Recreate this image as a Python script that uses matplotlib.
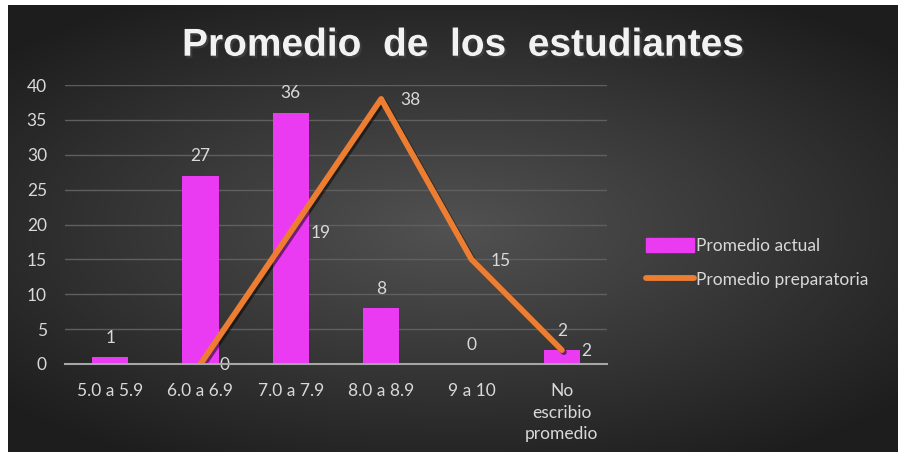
import numpy as np
import matplotlib
matplotlib.use("Agg")
import matplotlib.pyplot as plt
import matplotlib.patheffects as pe
from matplotlib.patches import Patch
from matplotlib.lines import Line2D

categorias = ["5.0 a 5.9", "6.0 a 6.9", "7.0 a 7.9", "8.0 a 8.9", "9 a 10", "No\nescribio\npromedio"]
promedio_actual = [1, 27, 36, 8, 0, 2]
promedio_prepa = [np.nan, 0, 19, 38, 15, 2]

magenta = "#EA3BF2"
naranja = "#ED7D31"
texto = "#D9D9D9"

plt.rcParams['font.family'] = ['Lato', 'DejaVu Sans']

fig = plt.figure(figsize=(9.04, 4.57), dpi=100)
fig.patch.set_facecolor("white")

# fondo con degradado radial
bg = fig.add_axes([8/904, 5/457, 890/904, 447/457])
xx, yy = np.meshgrid(np.linspace(-1, 1, 400), np.linspace(-1, 1, 200))
r = np.sqrt((xx*0.9)**2 + (yy*1.0)**2)
val = 0.32 - 0.17*np.clip(r, 0, 1.2)
bg.imshow(np.dstack([val, val, val]), aspect="auto", extent=[0, 1, 0, 1])
bg.set_axis_off()

ax = fig.add_axes([65/904, 93/457, 542/904, 279/457])
ax.patch.set_alpha(0)
x = np.arange(len(categorias))

ax.bar(x, promedio_actual, width=0.4, color=magenta, zorder=3)
ax.plot(x, promedio_prepa, color=naranja, lw=4.2, zorder=4, solid_capstyle="round",
        solid_joinstyle="round",
        path_effects=[pe.SimpleLineShadow(offset=(1.5, -1.5), alpha=0.5), pe.Normal()])

for xi, v in zip(x, promedio_actual):
    ax.annotate(str(v), (xi, v), xytext=(0, 14), textcoords="offset points",
                ha="center", va="center", color=texto, fontsize=12.5)
for xi, v in zip(x, promedio_prepa):
    if np.isnan(v):
        continue
    ax.annotate(str(int(v)), (xi, v), xytext=(14, -1), textcoords="offset points",
                ha="left", va="center", color=texto, fontsize=12.5)

ax.set_xlim(-0.5, len(categorias) - 0.5)
ax.set_ylim(0, 40)
ax.set_yticks(range(0, 41, 5))
ax.set_xticks(x)
ax.set_xticklabels(categorias, linespacing=1.4)
ax.tick_params(colors=texto, labelsize=12.5, length=0)
ax.tick_params(axis="y", pad=13)
ax.tick_params(axis="x", pad=14)
ax.grid(axis="y", color="#5f5f5f", lw=1, zorder=0)
for s in ["top", "right", "left"]:
    ax.spines[s].set_visible(False)
ax.spines["bottom"].set_color("#a6a6a6")
ax.spines["bottom"].set_linewidth(1.5)
ax.spines["bottom"].set_zorder(5)

fig.text(0.512, 0.9, "Promedio  de  los  estudiantes", ha="center", va="center",
         color="#F2F2F2", fontsize=28, fontweight="bold", family=["Liberation Sans", "DejaVu Sans"],
         path_effects=[pe.withSimplePatchShadow(offset=(1.5, -1.5), alpha=0.6)])

handles = [Patch(color=magenta),
           Line2D([0], [0], color=naranja, lw=4.2, solid_capstyle="round")]
fig.legend(handles, ["Promedio actual", "Promedio preparatoria"], loc="center left",
           bbox_to_anchor=(0.697, 0.425), frameon=False, labelcolor=texto, fontsize=12.5,
           handlelength=2.8, handleheight=0.9, handletextpad=0.1, labelspacing=1.0)

fig.savefig("out.png", dpi=100, facecolor=fig.get_facecolor())
